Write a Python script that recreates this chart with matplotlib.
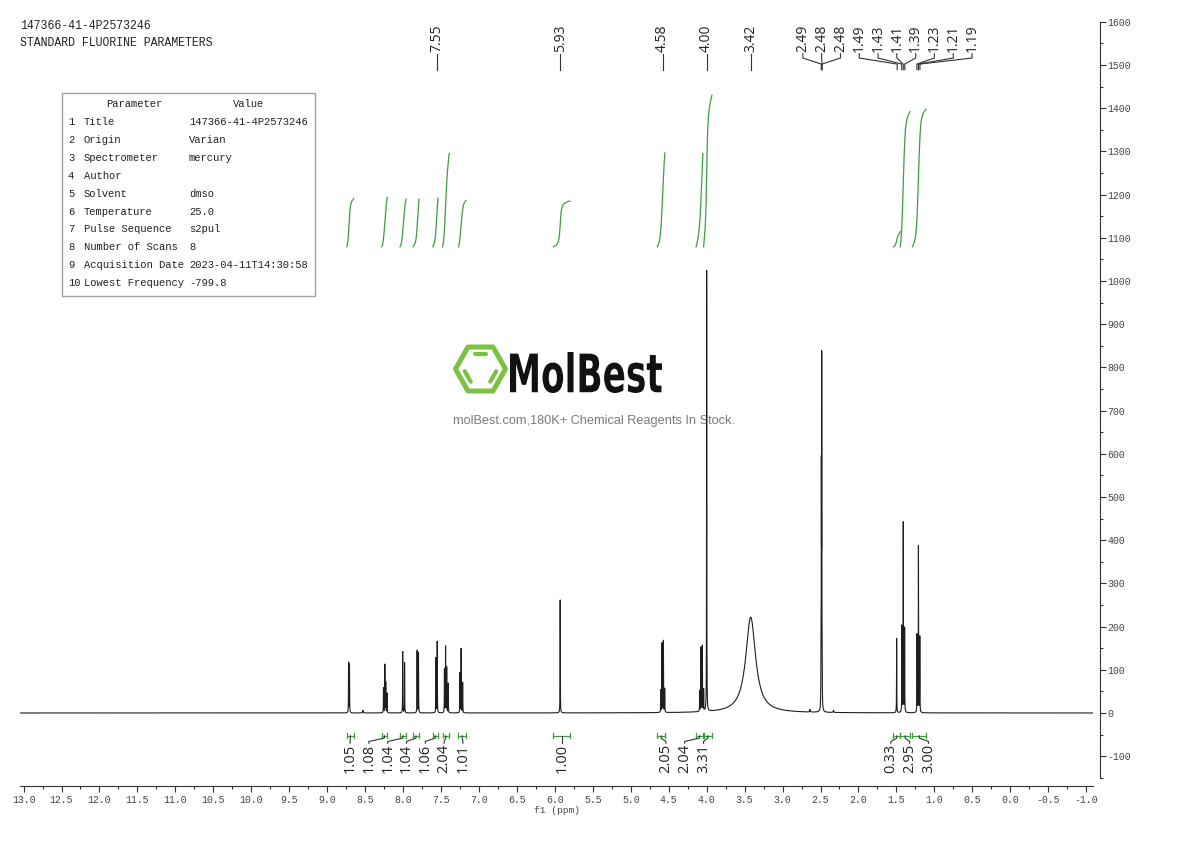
import numpy as np
import matplotlib
matplotlib.use("Agg")
import matplotlib.pyplot as plt
import matplotlib.ticker as mticker
from matplotlib.patches import Polygon, PathPatch, Rectangle
from matplotlib.textpath import TextPath
from matplotlib.font_manager import FontProperties
from matplotlib.transforms import Affine2D
from matplotlib.lines import Line2D

plt.rcParams["axes.unicode_minus"] = False

# ---------------- data ----------------
header_lines = ["147366-41-4P2573246", "STANDARD FLUORINE PARAMETERS"]
param_names = ["Title", "Origin", "Spectrometer", "Author", "Solvent", "Temperature",
               "Pulse Sequence", "Number of Scans", "Acquisition Date", "Lowest Frequency"]
param_values = ["147366-41-4P2573246", "Varian", "mercury", "", "dmso", "25.0",
                "s2pul", "8", "2023-04-11T14:30:58", "-799.8"]

# individual resonance lines (ppm, height, half width at half maximum)
line_ppm = [8.718, 8.706, 8.530,
            8.258, 8.240, 8.228, 8.212,
            8.005, 7.980,
            7.815, 7.797,
            7.567, 7.550,
            7.455, 7.440, 7.425, 7.405,
            7.250, 7.235, 7.215,
            5.930,
            4.605, 4.588, 4.570, 4.553,
            4.092, 4.075, 4.057, 4.040,
            4.000,
            3.420,
            2.640, 2.494, 2.489, 2.484, 2.479, 2.330,
            1.497,
            1.428, 1.410, 1.392,
            1.228, 1.210, 1.192]
line_height = [116, 112, 6,
               58, 112, 70, 45,
               142, 116,
               144, 139,
               127, 165,
               100, 153, 105, 68,
               92, 148, 70,
               262,
               52, 160, 166, 55,
               48, 148, 152, 50,
               1025,
               222,
               6, 110, 510, 780, 110, 5,
               173,
               200, 440, 195,
               180, 386, 175]
line_hwhm = [0.0016, 0.0016, 0.004,
             0.0016, 0.0016, 0.0016, 0.0016,
             0.0016, 0.0016,
             0.0016, 0.0016,
             0.0016, 0.0016,
             0.0016, 0.0016, 0.0016, 0.0016,
             0.0016, 0.0016, 0.0016,
             0.0016,
             0.0016, 0.0016, 0.0016, 0.0016,
             0.0016, 0.0016, 0.0016, 0.0016,
             0.0016,
             0.078,
             0.004, 0.0016, 0.0016, 0.0016, 0.0016, 0.004,
             0.0016,
             0.0016, 0.0016, 0.0016,
             0.0016, 0.0016, 0.0016]

peak_labels = [7.55, 5.93, 4.58, 4.00, 3.42, 2.49, 2.48, 2.48,
               1.49, 1.43, 1.41, 1.39, 1.23, 1.21, 1.19]

int_start = [8.74, 8.28, 8.04, 7.87, 7.61, 7.48, 7.27, 6.02, 4.65, 4.14, 4.04, 1.54, 1.45, 1.29]
int_end = [8.65, 8.21, 7.96, 7.79, 7.54, 7.39, 7.17, 5.80, 4.55, 4.05, 3.93, 1.45, 1.32, 1.11]
int_value = [1.05, 1.08, 1.04, 1.04, 1.06, 2.04, 1.01, 1.00, 2.05, 2.04, 3.31, 0.33, 2.95, 3.00]

x_limits = (13.047, -1.09)
y_limits = (-169, 1604)
int_base = 1079
int_scale = 106

# ---------------- figure ----------------
W, H = 1190, 841
fig = plt.figure(figsize=(W / 100, H / 100), dpi=100)

# overlay in pixel coordinates (for header, table, watermark)
oax = fig.add_axes([0, 0, 1, 1], zorder=0)
oax.set_xlim(0, W)
oax.set_ylim(H, 0)
oax.axis("off")

ax = fig.add_axes([20 / W, (H - 786) / H, 1073 / W, 766 / H], zorder=1)
ax.patch.set_alpha(0)
ax.set_xlim(*x_limits)
ax.set_ylim(*y_limits)

# spectrum
grid = np.linspace(x_limits[0], x_limits[1], 60000)
c = np.array(line_ppm)[:, None]
h = np.array(line_height)[:, None]
g = np.array(line_hwhm)[:, None]
spec = (h / (1 + ((grid[None, :] - c) / g) ** 2)).sum(axis=0)
ax.plot(grid, spec, color="#1e1e1e", lw=0.8, zorder=3)

# spines / ticks
for s in ["top", "left"]:
    ax.spines[s].set_visible(False)
ax.spines["right"].set_position(("outward", 5))
ax.spines["right"].set_bounds(-150, 1600)
ax.spines["right"].set_color("#333333")
ax.spines["bottom"].set_color("#333333")
ax.yaxis.tick_right()
ax.yaxis.set_major_locator(mticker.MultipleLocator(100))
ax.yaxis.set_minor_locator(mticker.MultipleLocator(50))
ax.xaxis.set_major_locator(mticker.MultipleLocator(0.5))
ax.xaxis.set_minor_locator(mticker.MultipleLocator(0.25))
ax.xaxis.set_major_formatter(mticker.FormatStrFormatter("%.1f"))
ax.yaxis.set_major_formatter(mticker.FormatStrFormatter("%d"))
ax.tick_params(axis="both", which="major", direction="out", length=4, width=0.8,
               colors="#333333", labelsize=7.1, labelfontfamily="Liberation Mono",
               labelcolor="#444444")
ax.tick_params(axis="both", which="minor", direction="out", length=2.5, width=0.8,
               colors="#333333")
ax.tick_params(axis="y", which="major", pad=1.5)
ax.tick_params(axis="x", which="major", pad=2.5)
ax.set_xlabel("f1 (ppm)", fontsize=6.8, family="Liberation Mono", color="#444444", labelpad=0.5)

green = "#3f9d3f"

# ---------- label spreading helper ----------
fig.canvas.draw()


def to_px(v):
    v = np.asarray(v, dtype=float)
    return ax.transData.transform(np.column_stack([v, np.zeros_like(v)]))[:, 0]


def to_ppm(p):
    p = np.asarray(p, dtype=float)
    return ax.transData.inverted().transform(np.column_stack([p, np.zeros_like(p)]))[:, 0]


def spread(left_px, right_px, d, T):
    left_px = np.asarray(left_px)
    right_px = np.asarray(right_px)
    order = np.argsort(left_px)
    groups = []
    for i in order:
        if groups and left_px[i] - max(right_px[j] for j in groups[-1]) < T:
            groups[-1].append(i)
        else:
            groups.append([i])
    pos = np.zeros(len(left_px))
    prev = -1e9
    for grp in groups:
        lo = min(left_px[j] for j in grp)
        hi = max(right_px[j] for j in grp)
        n = len(grp)
        p = (lo + hi) / 2 + (np.arange(n) - (n - 1) / 2) * d
        if p[0] < prev + d:
            p += prev + d - p[0]
        for j, pj in zip(grp, p):
            pos[j] = pj
        prev = p[-1]
    return pos


spacing = 18.8

# ---------- integrals ----------
a_int = 0.010
area_h = h * g
for s0, e0, v in zip(int_start, int_end, int_value):
    xs = np.linspace(s0, e0, 400)
    geff = g + a_int
    broad = ((area_h / geff) / (1 + ((xs[None, :] - c) / geff) ** 2)).sum(axis=0)
    cum = np.cumsum(broad)
    cum = (cum - cum[0]) / (cum[-1] - cum[0])
    ax.plot(xs, int_base + v * int_scale * cum, color=green, lw=0.9, zorder=3)

ileft = to_px(int_start)
iright = to_px(int_end)
ilab_px = spread(ileft, iright, spacing, 2 * spacing)
ilab = to_ppm(ilab_px)
yb = -53
for s0, e0, v, lx in zip(int_start, int_end, int_value, ilab):
    cx = (s0 + e0) / 2
    ax.plot([s0, e0], [yb, yb], color=green, lw=0.9)
    ax.plot([s0, s0], [yb - 6, yb + 6], color=green, lw=0.9)
    ax.plot([e0, e0], [yb - 6, yb + 6], color=green, lw=0.9)
    ax.plot([cx, cx, lx, lx], [yb, -58, -66, -70], color="#333333", lw=0.8)
    ax.text(lx, -72, f"{v:.2f}", rotation=90, ha="center", va="top", fontsize=10.5,
            family="Open Sans", color="#222222")

# ---------- peak labels ----------
ppx = to_px(peak_labels)
plab_px = spread(ppx, ppx, spacing, 2 * spacing)
plab = to_ppm(plab_px)
for pk, lx in zip(peak_labels, plab):
    ax.plot([lx, lx, pk, pk], [1526, 1516, 1502, 1489], color="#333333", lw=0.8,
            clip_on=False)
    ax.text(lx, 1529, f"{pk:.2f}", rotation=90, ha="center", va="bottom", fontsize=10,
            family="Open Sans", color="#222222", clip_on=False)

# ---------- header ----------
for i, t in enumerate(header_lines):
    oax.text(20, 26 + 17 * i, t, ha="left", va="center", fontsize=8.3,
             family="Liberation Mono", color="#222222")

# ---------- parameter table ----------
tfs = 7.55
oax.add_patch(Rectangle((62, 93), 253, 203, fill=False, ec="#a0a0a0", lw=1.0))
oax.text(134, 104, "Parameter", ha="center", va="center", fontsize=tfs,
         family="Liberation Mono", color="#222222")
oax.text(249, 104, "Value", ha="center", va="center", fontsize=tfs,
         family="Liberation Mono", color="#222222")
for i, (n, v) in enumerate(zip(param_names, param_values)):
    y = 122 + 17.9 * i
    oax.text(68, y, str(i + 1), ha="left", va="center", fontsize=tfs,
             family="Liberation Mono", color="#222222")
    oax.text(84, y, n, ha="left", va="center", fontsize=tfs,
             family="Liberation Mono", color="#222222")
    oax.text(189, y, v, ha="left", va="center", fontsize=tfs,
             family="Liberation Mono", color="#222222")

# ---------- watermark ----------
logo_green = "#7cc142"
cxl, cyl = 480.5, 369
a_, b_, c_ = 25, 12.5, 22
hexv = np.array([[cxl - a_, cyl], [cxl - b_, cyl - c_], [cxl + b_, cyl - c_],
                 [cxl + a_, cyl], [cxl + b_, cyl + c_], [cxl - b_, cyl + c_]])
oax.add_patch(Polygon(hexv, closed=True, fill=False, ec=logo_green, lw=3.6,
                      joinstyle="round"))
inner = (hexv - [cxl, cyl]) * 0.68 + [cxl, cyl]
for i0, i1 in [(1, 2), (5, 0), (4, 3)]:
    p0, p1 = inner[i0], inner[i1]
    q0 = p0 + 0.15 * (p1 - p0)
    q1 = p1 - 0.15 * (p1 - p0)
    oax.add_line(Line2D([q0[0], q1[0]], [q0[1], q1[1]], color=logo_green, lw=3.0,
                        solid_capstyle="round"))

tp = TextPath((0, 0), "MolBest", size=1, prop=FontProperties(family="DejaVu Sans", weight="bold"))
bb = tp.get_extents()
tr = (Affine2D().translate(-bb.x0, -bb.y0)
      .scale(152 / bb.width, -41 / bb.height).translate(510, 393))
oax.add_patch(PathPatch(tr.transform_path(tp), fc="#111111", ec="none"))
oax.text(594, 421, "molBest.com,180K+ Chemical Reagents In Stock.", ha="center",
         va="center", fontsize=9.2, family="Liberation Sans", color="#7a7a7a")

fig.savefig("out.png", dpi=100)
